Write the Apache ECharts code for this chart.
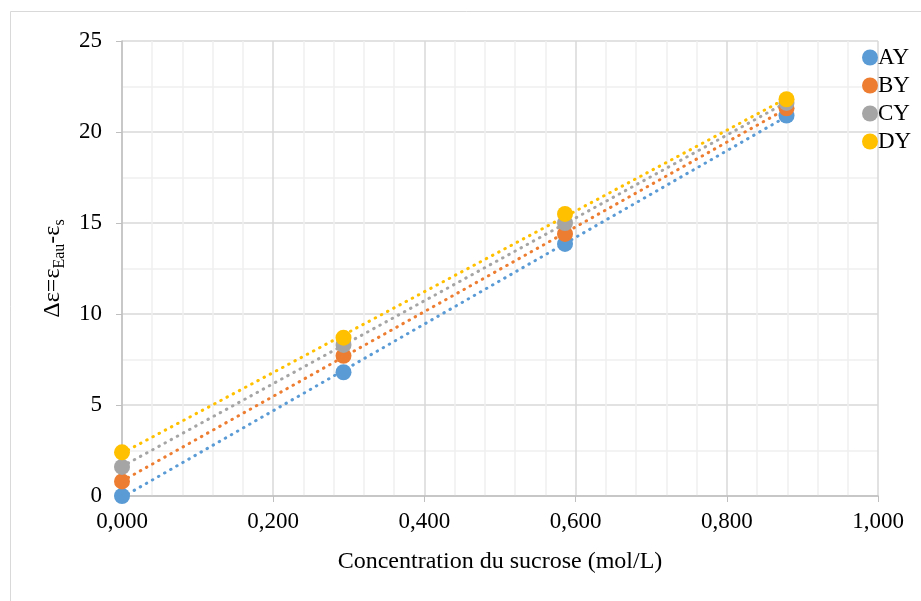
<!DOCTYPE html>
<html>
<head>
<meta charset="utf-8">
<script src="https://cdn.jsdelivr.net/npm/echarts@6/dist/echarts.min.js"></script>
<style>html,body{margin:0;padding:0;background:#fff;}#c{width:921px;height:601px;}</style>
</head>
<body>
<div id="c"></div>
<script>
const concentrations = [0, 0.293, 0.586, 0.879];
const seriesNames = ['AY', 'BY', 'CY', 'DY'];
const AY = [0, 6.8, 13.85, 20.9];
const BY = [0.8, 7.7, 14.4, 21.3];
const CY = [1.6, 8.3, 15.0, 21.6];
const DY = [2.4, 8.7, 15.5, 21.8];
const colors = ['#5B9BD5', '#ED7D31', '#A5A5A5', '#FFC000'];

const allY = [AY, BY, CY, DY];
const font = '"Liberation Serif", "Times New Roman", serif';

function linFit(xs, ys) {
  const n = xs.length;
  let sx = 0, sy = 0, sxx = 0, sxy = 0;
  for (let i = 0; i < n; i++) { sx += xs[i]; sy += ys[i]; sxx += xs[i]*xs[i]; sxy += xs[i]*ys[i]; }
  const b = (n*sxy - sx*sy) / (n*sxx - sx*sx);
  const a = (sy - b*sx) / n;
  const x0 = Math.min(...xs), x1 = Math.max(...xs);
  return [[x0, a + b*x0], [x1, a + b*x1]];
}

const series = [];
allY.forEach((ys, i) => {
  series.push({
    name: seriesNames[i] + ' trend',
    type: 'line',
    data: linFit(concentrations, ys),
    showSymbol: false,
    symbol: 'none',
    lineStyle: { color: colors[i], width: 3, type: [0.5, 6.5], cap: 'round' },
    silent: true,
    z: 1
  });
});
allY.forEach((ys, i) => {
  series.push({
    name: seriesNames[i],
    type: 'scatter',
    data: ys.map((y, j) => [concentrations[j], y]),
    symbolSize: 16,
    itemStyle: { color: colors[i], opacity: 1 },
    z: 3
  });
});

const chart = echarts.init(document.getElementById('c'));
chart.setOption({
  animation: false,
  backgroundColor: '#fff',
  color: colors,
  graphic: [{
    type: 'rect',
    shape: { x: 10.5, y: 11.5, width: 920, height: 600 },
    style: { fill: 'none', stroke: '#d9d9d9', lineWidth: 1 },
    silent: true, z: -10
  }],
  grid: { left: 122, right: 43, top: 41, bottom: 105, containLabel: false },
  legend: {
    data: seriesNames,
    orient: 'vertical',
    left: 857,
    top: 41,
    itemWidth: 16,
    itemHeight: 16,
    itemGap: 5,
    icon: 'circle',
    textStyle: { fontFamily: font, fontSize: 23, color: '#000', padding: [0, 0, 0, -5] }
  },
  xAxis: {
    type: 'value',
    min: 0, max: 1, interval: 0.2,
    name: 'Concentration du sucrose (mol/L)',
    nameLocation: 'middle',
    nameGap: 54,
    nameTextStyle: { fontFamily: font, fontSize: 24, color: '#000' },
    axisLine: { show: true, lineStyle: { color: '#bfbfbf', width: 1.5 } },
    axisTick: { show: true, length: 6, lineStyle: { color: '#bfbfbf' } },
    axisLabel: { fontFamily: font, fontSize: 23, color: '#000', margin: 14,
      formatter: v => v.toFixed(3).replace('.', ',') },
    splitLine: { show: true, lineStyle: { color: '#d9d9d9', width: 1.5 } },
    minorTick: { show: false, splitNumber: 5 },
    minorSplitLine: { show: true, lineStyle: { color: '#f0f0f0', width: 1.5 } }
  },
  yAxis: {
    type: 'value',
    min: 0, max: 25, interval: 5,
    name: '{m|Δε=ε}{s|Eau}{m|-ε}{s|s}',
    nameLocation: 'middle',
    nameGap: 52,
    nameRotate: 90,
    nameTextStyle: {
      fontFamily: font, fontSize: 24, color: '#000',
      rich: {
        m: { fontFamily: font, fontSize: 24, color: '#000', lineHeight: 30, verticalAlign: 'middle' },
        s: { fontFamily: font, fontSize: 16, color: '#000', lineHeight: 14, verticalAlign: 'bottom' }
      }
    },
    axisLine: { show: true, lineStyle: { color: '#bfbfbf', width: 1.5 } },
    axisTick: { show: true, length: 6, lineStyle: { color: '#bfbfbf' } },
    axisLabel: { fontFamily: font, fontSize: 23, color: '#000', margin: 20 },
    splitLine: { show: true, lineStyle: { color: '#d9d9d9', width: 1.5 } },
    minorTick: { show: false, splitNumber: 2 },
    minorSplitLine: { show: true, lineStyle: { color: '#f0f0f0', width: 1.5 } }
  },
  series: series
});
</script>
</body>
</html>
